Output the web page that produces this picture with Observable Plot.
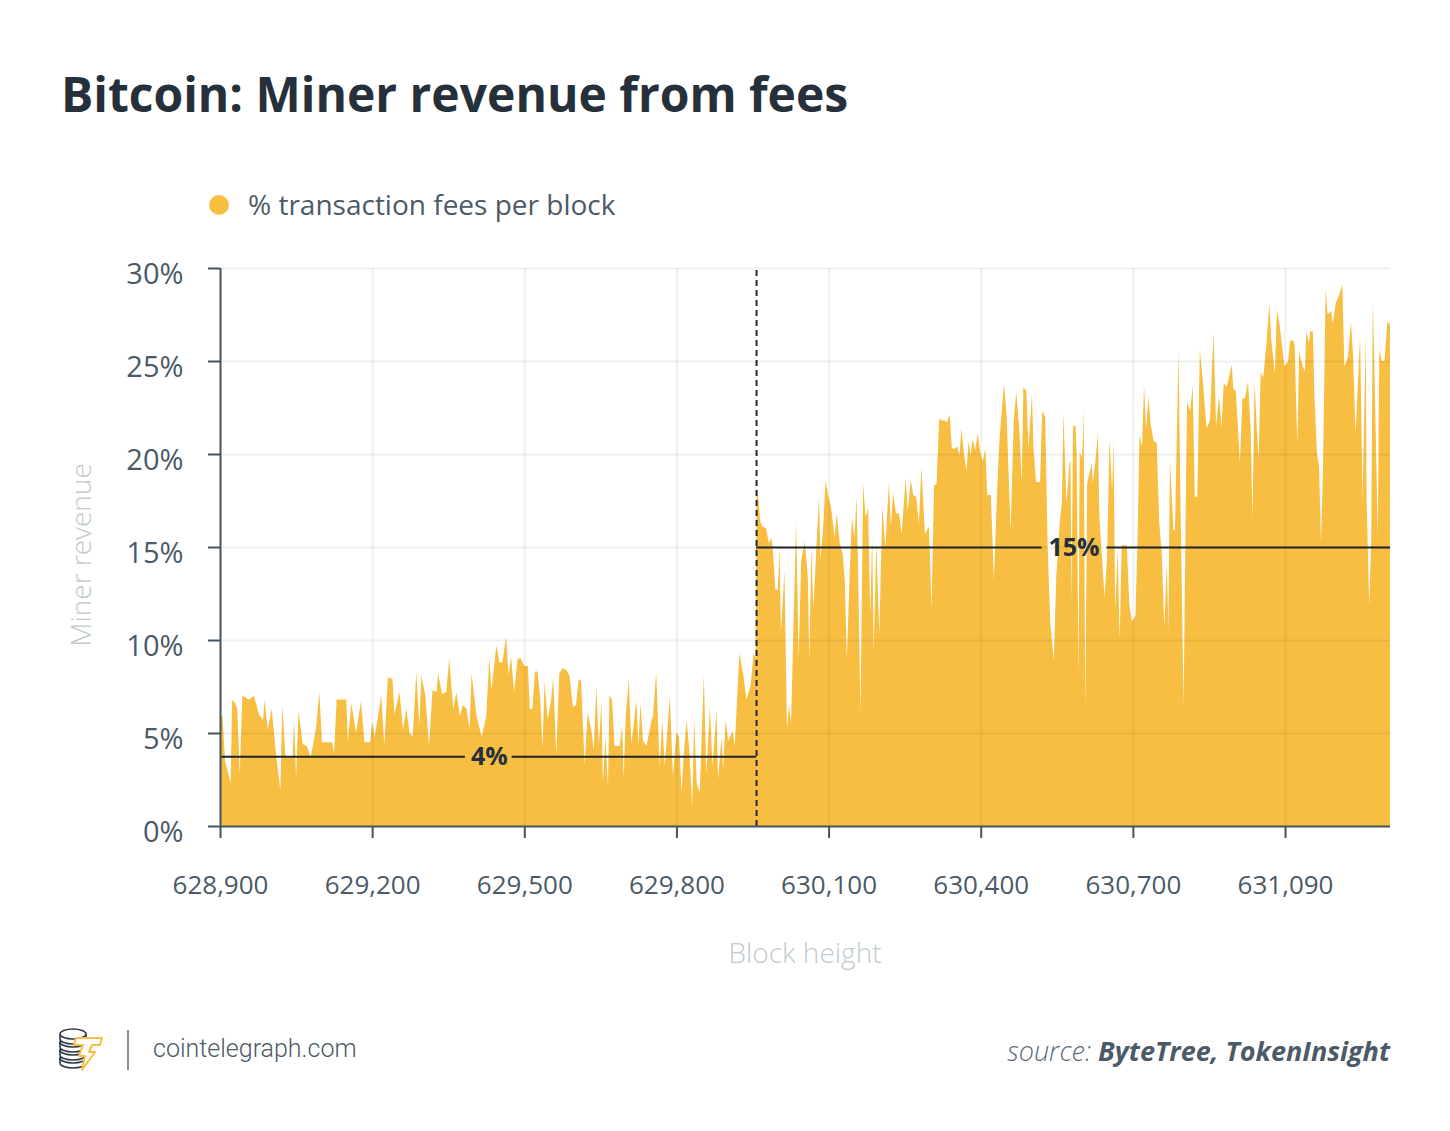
<!DOCTYPE html>
<html><head><meta charset="utf-8">
<script src="https://cdn.jsdelivr.net/npm/d3@7"></script>
<script src="https://cdn.jsdelivr.net/npm/@observablehq/plot@0.6"></script>
<style>
body{margin:0;background:#fff;width:1450px;height:1131px;position:relative;overflow:hidden;font-family:"Open Sans",sans-serif;}
.abs{position:absolute;white-space:nowrap;line-height:1;}
#title{left:61px;top:70px;font-size:48px;font-weight:700;color:#25303b;}
#legend{left:248px;top:190px;font-size:28px;color:#4b5a66;}
#dot{left:209px;top:195px;width:20px;height:20px;border-radius:50%;background:#f7be41;}
#ylab{left:80px;top:555px;font-size:28px;font-weight:300;color:#c0cad0;transform:translate(-50%,-50%) rotate(-90deg);}
#xlab{left:805px;top:952px;font-size:28px;font-weight:300;color:#c0cad0;transform:translate(-50%,-50%);}
#chart{position:absolute;left:0;top:230px;}
#sep{left:127px;top:1030px;width:2px;height:40px;background:#8a9096;}
#site{left:153px;top:1036px;font-family:Roboto,sans-serif;font-weight:300;font-size:25px;color:#4b5a66;}
#source{right:60px;top:1037px;font-size:27px;font-style:italic;color:#4b5a66;}
#source .l{font-weight:300;color:#5d6b75;}
#source .b{font-weight:700;}
</style></head>
<body>
<div id="title" class="abs">Bitcoin: Miner revenue from fees</div>
<div id="dot" class="abs"></div>
<div id="legend" class="abs">% transaction fees per block</div>
<div id="ylab" class="abs">Miner revenue</div>
<div id="xlab" class="abs">Block height</div>
<div id="chart"></div>
<svg class="abs" style="left:56px;top:1026px" width="50" height="46" viewBox="0 0 50 46">
  <g fill="#fff" stroke="#2f3a44" stroke-width="1.6">
    <path d="M4 32 v5 a13 5 0 0 0 26 0 v-5"/>
    <ellipse cx="17" cy="32" rx="13" ry="5"/>
    <path d="M4 24 v5 a13 5 0 0 0 26 0 v-5"/>
    <ellipse cx="17" cy="24" rx="13" ry="5"/>
    <path d="M4 16 v5 a13 5 0 0 0 26 0 v-5"/>
    <ellipse cx="17" cy="16" rx="13" ry="5"/>
    <path d="M4 8 v5 a13 5 0 0 0 26 0 v-5"/>
    <ellipse cx="17" cy="8" rx="13" ry="5"/>
  </g>
  <path d="M20 12 L46 12 L44 19 L36 19 L33 26 L39 26 L26 44 L29 30 L23 30 L27 19 L18 19 Z" fill="#fff" stroke="#f7be41" stroke-width="2" stroke-linejoin="round"/>
</svg>
<div id="sep" class="abs"></div>
<div id="site" class="abs">cointelegraph.com</div>
<div id="source" class="abs"><span class="l">source: </span><span class="b">ByteTree, TokenInsight</span></div>
<script>
const blocks = [
628900,628905,628910,628921,628924,628930,628934,628939,628944,628957,628967,628977,628985,628988,628994,629002,629010,629019,629023,629029,
629043,629046,629050,629055,629063,629071,629079,629089,629096,629101,629121,629125,629130,629149,629152,629159,629168,629178,629185,629196,
629200,629205,629218,629224,629231,629240,629244,629254,629261,629267,629274,629280,629287,629293,629297,629305,629312,629319,629327,629330,
629338,629346,629352,629360,629366,629373,629379,629386,629392,629396,629406,629416,629425,629431,629435,629445,
629451,629457,629464,629469,629474,629480,629487,629493,629500,629507,629511,629516,629521,629526,629531,629536,629540,629546,629553,629557,
629563,629569,629576,629582,629589,629596,629602,629607,629612,629619,629625,629632,629637,629642,629647,629652,629655,629660,629665,629668,
629673,629678,629688,629693,629696,629700,629706,629711,629716,629721,629725,629729,629734,629741,629751,629754,629760,629767,629772,629777,
629787,629793,629800,629805,629810,629814,629820,629826,629831,629835,629840,629846,629854,629859,629866,629871,629879,629882,629889,629892,
629897,629902,629911,629915,629924,629932,629938,629946,629952,629956,
629958,629962,629965,629970,629977,629982,629987,629990,629995,630000,630003,630006,630013,630018,630022,630026,630036,630041,630046,630053,
630059,630062,630066,630070,630076,630081,630084,630089,630094,630099,630105,630112,630116,630122,630128,630132,630136,630142,630146,630151,
630155,630158,630163,630168,630173,630178,630182,630186,630189,630194,630200,630206,630212,630219,630223,630227,630233,630239,630244,630252,
630256,630262,630267,630273,630278,630283,630290,630298,630303,630308,630313,630318,630323,630329,630333,630339,630343,630349,630354,630358,
630362,630367,630372,630376,630380,630384,630389,630394,630399,630404,630409,630413,630420,630426,630432,630437,630446,630451,630459,630465,
630470,630476,630481,630484,630490,630494,630501,630504,630509,630517,630521,630527,630532,630537,630544,630549,630556,630560,630563,630569,
630575,
630577,630579,630582,630587,630589,630593,630595,630600,630603,630606,630610,630613,630619,630621,630626,630631,630634,630639,630644,630649,
630654,630659,630662,630665,630670,630674,630678,630688,630693,630698,630705,630709,630713,630718,630722,630726,630731,630735,630741,630747,
630752,630757,630762,630767,630770,630773,630780,630783,630790,630793,630800,630805,630807,630813,630818,630822,630827,630832,630839,630845,
630852,630859,630864,630870,630875,630879,630885,630895,630898,630903,630911,630916,630921,630927,630932,630936,630940,630944,630948,630952,
630957,630963,630969,630973,630980,630984,630990,630995,630999,631006,631010,631016,631019,631024,631028,631032,631039,631042,631047,631050,
631055,631058,631063,631067,631071,631075,631080,631084,631091,631094,631100,631106,631113,631117,631124,631130,631134,631139,631143,631148,
631153,631159,631161,631166,631170,631173,631176,631183,631186,631191,631196,631202,631207
];
const fees = [
5.9,5.9,3.5,2.3,6.8,6.6,6.3,2.8,7.0,6.8,7.0,6.0,5.7,6.8,5.2,6.3,4.0,1.9,6.5,3.7,
3.7,5.7,2.6,6.2,4.4,4.3,3.7,5.2,7.2,4.5,4.5,3.9,6.8,6.8,4.5,6.6,5.0,6.7,4.5,4.5,
5.6,4.8,7.0,4.3,8.0,7.9,6.0,7.2,5.2,6.3,5.0,4.8,8.3,5.4,8.1,7.0,4.3,7.3,7.2,8.2,
7.1,7.2,9.0,6.3,7.2,5.9,6.5,6.3,5.2,8.2,5.9,4.8,5.9,9.1,7.3,9.7,
8.8,8.8,10.2,8.1,9.1,7.2,9.0,9.0,8.6,8.6,6.3,6.3,8.3,8.3,7.0,4.2,7.8,5.7,6.8,8.0,
3.8,8.2,8.5,8.4,8.1,6.4,6.5,7.9,7.8,3.3,6.1,5.2,4.1,7.5,4.3,6.7,2.3,4.8,2.1,7.0,
6.8,4.3,4.3,5.4,2.5,5.9,7.9,4.4,5.5,6.8,4.3,6.6,4.6,4.3,5.7,5.9,8.3,3.2,5.7,3.2,
7.0,2.7,5.0,4.8,1.8,3.7,5.7,3.9,1.0,5.7,2.3,1.8,8.1,2.8,6.4,3.2,6.2,2.5,4.8,3.0,
5.7,4.6,5.1,4.3,9.3,8.1,6.8,7.5,9.3,9.0,
18.3,17.5,16.4,16.1,16.0,15.2,15.5,14.9,12.7,12.7,15.0,10.4,13.7,5.2,6.5,5.5,16.4,9.0,14.3,15.3,
13.4,8.9,15.0,11.7,15.0,17.7,14.3,15.9,18.6,17.8,17.1,15.5,16.8,15.2,14.6,13.2,8.9,13.9,16.6,15.5,
17.7,14.1,6.0,18.4,16.6,17.1,11.4,15.5,9.3,15.3,10.3,17.1,15.0,18.5,16.1,17.9,16.8,16.8,15.7,18.7,
16.9,18.6,17.8,17.7,16.2,19.3,15.7,16.1,11.7,18.3,18.4,21.9,21.8,21.8,21.7,22.1,20.3,20.3,20.4,19.9,
21.4,20.0,19.1,20.7,19.9,20.8,20.2,21.1,20.1,19.6,20.3,17.8,17.8,13.2,17.8,20.8,23.8,22.1,15.8,21.8,
23.3,21.4,18.4,23.6,23.4,20.3,23.2,20.3,18.5,18.5,22.3,22.0,15.0,11.0,8.9,13.4,16.4,17.4,22.3,17.3,
19.5,
19.6,12.0,21.5,21.5,20.1,7.9,20.1,19.8,22.4,6.2,18.4,18.8,19.5,18.4,19.6,21.1,16.6,14.5,12.3,14.3,
20.8,18.0,20.7,11.7,14.8,10.0,15.1,15.1,11.9,11.0,11.3,15.2,21.0,20.4,23.7,21.3,23.1,21.6,20.7,20.6,
16.3,14.6,10.7,14.2,10.5,19.7,15.9,15.9,25.6,19.1,6.4,19.1,22.8,22.3,23.7,17.7,17.7,25.6,23.6,21.4,
21.8,26.6,21.5,23.1,21.4,23.8,23.6,24.8,23.5,23.4,19.5,23.0,23.0,23.9,21.5,16.5,24.0,21.5,19.7,24.4,
24.1,25.8,28.1,26.1,24.3,27.8,26.8,25.6,24.7,25.0,26.1,26.1,25.9,20.5,25.5,25.0,24.4,26.6,26.0,26.6,
26.6,23.1,20.0,19.4,15.2,19.4,28.9,27.5,27.7,27.0,28.1,28.5,29.1,24.7,25.2,27.1,25.4,21.1,23.4,26.3,
17.5,26.4,17.5,11.8,15.5,28.2,25.0,15.5,25.6,25.0,25.0,27.1,27.0
];
const xTicks = [628900,629200,629500,629800,630100,630400,630700,631000];
const xTickLabels = ["628,900","629,200","629,500","629,800","630,100","630,400","630,700","631,090"];
const yTicks = [0,5,10,15,20,25,30];
const splitBlock = 629957;
const avgSegments = [
  {x1:628900,x2:629383,y:3.75},{x1:629475,x2:629957,y:3.75},
  {x1:629957,x2:630520,y:15},{x1:630648,x2:631207,y:15}
];
const avgLabels = [{x:629430,y:3.75,text:"4%"},{x:630583,y:15,text:"15%"}];

const data = blocks.map((b,i)=>({block:b, fee:fees[i]}));
const xMin = 628900, xMax = 631207;

const chart = Plot.plot({
  width:1450, height:760,
  marginLeft:220, marginRight:60, marginTop:38, marginBottom:164,
  x:{domain:[xMin,xMax]},
  y:{domain:[0,30]},
  style:{fontFamily:"Open Sans", fontSize:"26px", color:"#4b5a66", background:"transparent", overflow:"visible"},
  marks:[
    Plot.areaY(data,{x:"block",y:"fee",fill:"#f7be41",curve:"linear"}),
    Plot.gridX(xTicks.slice(1),{stroke:"#000",strokeOpacity:0.06,strokeWidth:2}),
    Plot.gridY(yTicks.slice(1),{stroke:"#000",strokeOpacity:0.06,strokeWidth:2}),
    Plot.ruleX([splitBlock],{y1:0,y2:30,stroke:"#1f2a33",strokeWidth:2,strokeDasharray:"6,4"}),
    Plot.ruleY(avgSegments,{y:"y",x1:"x1",x2:"x2",stroke:"#1f2329",strokeWidth:2}),
    Plot.text(avgLabels,{x:"x",y:"y",text:"text",fontWeight:700,fontSize:25,fill:"#25303b"}),
    Plot.axisX(xTicks,{tickSize:12,tickPadding:37,fontSize:26,tickFormat:d=>xTickLabels[xTicks.indexOf(d)],stroke:"#44545f",strokeWidth:2,label:null}),
    Plot.axisY(yTicks,{tickSize:12,tickFormat:()=>"",stroke:"#44545f",strokeWidth:2,label:null}),
    Plot.text(yTicks,{x:()=>xMin,y:d=>d,text:d=>d+"%",textAnchor:"end",dx:-37,dy:6,fontSize:29,fill:"#4b5a66"}),
    Plot.ruleX([xMin],{stroke:"#44545f",strokeWidth:2}),
    Plot.ruleY([0],{stroke:"#44545f",strokeWidth:2})
  ]
});
document.getElementById("chart").appendChild(chart);
</script>
</body></html>
